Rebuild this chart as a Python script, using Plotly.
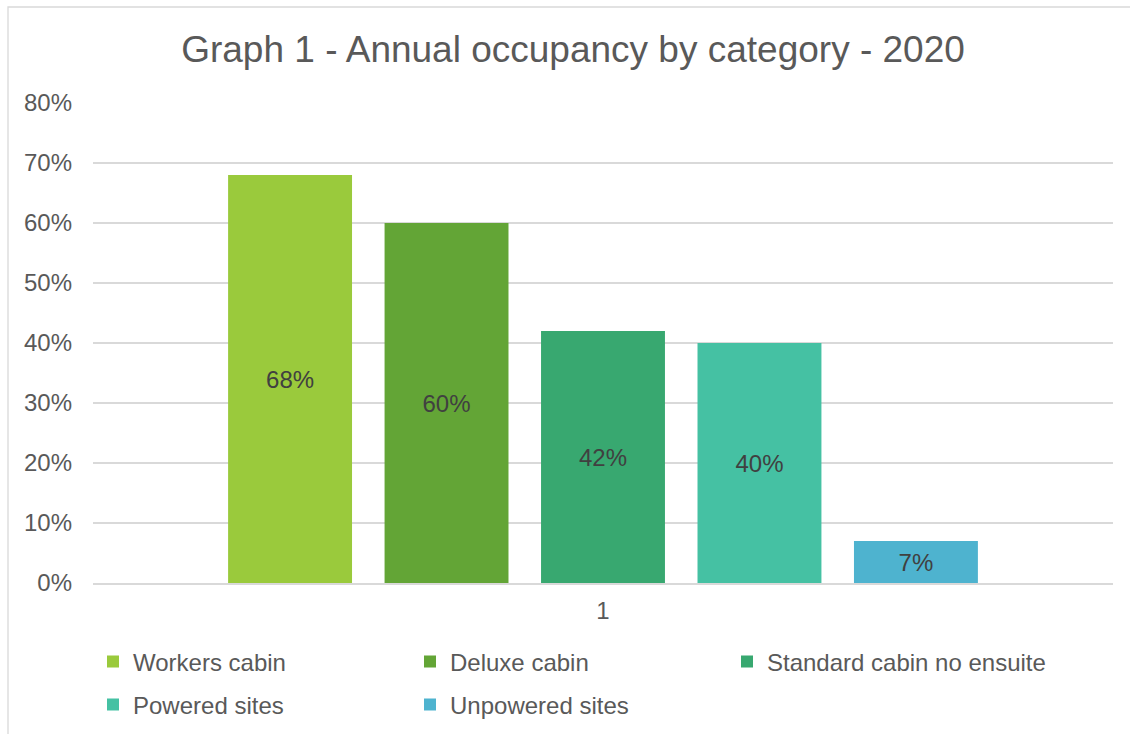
import plotly.graph_objects as go

# Occupancy by accommodation category, 2020
categories = ["1"]
series_names = ["Workers cabin", "Deluxe cabin", "Standard cabin no ensuite",
                "Powered sites", "Unpowered sites"]
occupancy = [0.68, 0.60, 0.42, 0.40, 0.07]
colors = ["#9ACA3C", "#63A536", "#38A870", "#45C1A3", "#4EB3CF"]
legend_ids = ["legend", "legend", "legend3", "legend2", "legend2"]
y_ticks = [0, 0.1, 0.2, 0.3, 0.4, 0.5, 0.6, 0.7, 0.8]

W, H = 1130, 734
L, R, T, B = 93, 17, 103, 151
plot_w = W - L - R
plot_h = H - T - B

FONT = "Arial, Liberation Sans, sans-serif"
GRID = "#D9D9D9"

fig = go.Figure()
for name, val, col, lg in zip(series_names, occupancy, colors, legend_ids):
    fig.add_trace(go.Bar(
        x=categories, y=[val], name=name, marker=dict(color=col, line=dict(width=0)),
        text=[val], texttemplate="%{y:.0%}", textposition="inside",
        insidetextanchor="middle", textangle=0,
        textfont=dict(family=FONT, size=24, color="#404040"),
        legend=lg, hoverinfo="skip",
    ))

# chart-area frame
def px_to_paper_x(px):
    return (px - L) / plot_w

def px_to_paper_y(py):
    return (H - B - py) / plot_h

fig.add_shape(type="rect", xref="paper", yref="paper",
              x0=px_to_paper_x(8), x1=px_to_paper_x(1140),
              y0=px_to_paper_y(745), y1=px_to_paper_y(7),
              line=dict(color=GRID, width=1.3), fillcolor="rgba(0,0,0,0)", layer="below")

legend_common = dict(
    orientation="h", xref="container", yref="container", xanchor="left", yanchor="middle",
    font=dict(family=FONT, size=24, color="#595959"), bgcolor="rgba(0,0,0,0)",
    entrywidthmode="pixels", itemclick=False, itemdoubleclick=False,
    traceorder="normal",
)
COL_STEP = 317

fig.update_layout(
    width=W, height=H,
    margin=dict(l=L, r=R, t=T, b=B, autoexpand=False),
    paper_bgcolor="white", plot_bgcolor="white",
    barmode="group", bargap=0.233, bargroupgap=0.208,
    title=dict(text="Graph 1 - Annual occupancy by category - 2020",
               x=(180 + 966) / 2 / W, xanchor="center", y=1 - 49 / H, yanchor="middle",
               font=dict(family=FONT, size=37, color="#595959")),
    font=dict(family=FONT, color="#595959"),
    showlegend=True,
    legend=dict(x=93 / W, y=1 - 662 / H, entrywidth=272, **legend_common),
    legend3=dict(x=(93 + 2 * COL_STEP) / W, y=1 - 662 / H, **legend_common),
    legend2=dict(x=93 / W, y=1 - 705 / H, entrywidth=272, **legend_common),
    xaxis=dict(type="category", showgrid=False, showline=True, linecolor=GRID, linewidth=1.5,
               ticks="", tickfont=dict(family=FONT, size=24, color="#595959"),
               ticklabelstandoff=5, zeroline=False, fixedrange=True),
    yaxis=dict(range=[0, 0.8], tickvals=y_ticks, tickformat=".0%",
               showgrid=True, gridcolor=GRID, gridwidth=1.5, zeroline=False,
               showline=False, ticks="", ticklabelstandoff=20,
               tickfont=dict(family=FONT, size=24, color="#595959"), fixedrange=True),
)

fig.write_html("out.html")
